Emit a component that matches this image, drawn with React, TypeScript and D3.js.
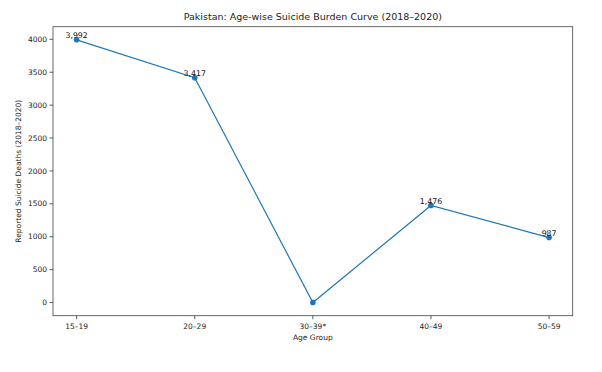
import React from "react";
import * as d3 from "d3";

const width = 602;
const height = 372;
const margin = { top: 26.7, right: 29.3, bottom: 56.3, left: 53 };

const ageGroups = ["15–19", "20–29", "30–39*", "40–49", "50–59"];
const deaths = [3992, 3417, 0, 1476, 987];
const yTicks = [0, 500, 1000, 1500, 2000, 2500, 3000, 3500, 4000];

const font = "DejaVu Sans, sans-serif";
const blue = "#1f77b4";

export default function App() {
  const innerW = width - margin.left - margin.right;
  const innerH = height - margin.top - margin.bottom;

  const x = d3
    .scaleLinear()
    .domain([-0.2, ageGroups.length - 1 + 0.2])
    .range([margin.left, margin.left + innerW]);

  const yMax = d3.max(deaths) as number;
  const pad = yMax * 0.05;
  const y = d3
    .scaleLinear()
    .domain([-pad, yMax + pad])
    .range([margin.top + innerH, margin.top]);

  const line = d3
    .line<number>()
    .x((_, i) => x(i))
    .y((d) => y(d));

  const fmt = d3.format(",");
  const bottom = margin.top + innerH;
  const right = margin.left + innerW;

  return (
    <svg
      width={width}
      height={height}
      style={{ position: "absolute", left: 0, top: 0, background: "#fff" }}
      fontFamily={font}
    >
      <text x={(margin.left + right) / 2} y={20} textAnchor="middle" fontSize={9.5} fill="#222">
        Pakistan: Age-wise Suicide Burden Curve (2018–2020)
      </text>

      {/* y ticks */}
      {yTicks.map((t) => (
        <g key={t}>
          <line x1={margin.left - 3.5} x2={margin.left} y1={y(t)} y2={y(t)} stroke="#333" strokeWidth={0.8} />
          <text x={margin.left - 6} y={y(t)} dy="0.35em" textAnchor="end" fontSize={7.5} fill="#222">
            {t}
          </text>
        </g>
      ))}

      {/* x ticks */}
      {ageGroups.map((g, i) => (
        <g key={g}>
          <line x1={x(i)} x2={x(i)} y1={bottom} y2={bottom + 3.5} stroke="#333" strokeWidth={0.8} />
          <text x={x(i)} y={bottom + 13} textAnchor="middle" fontSize={7.5} fill="#222">
            {g}
          </text>
        </g>
      ))}

      <rect
        x={margin.left}
        y={margin.top}
        width={innerW}
        height={innerH}
        fill="none"
        stroke="#444"
        strokeWidth={0.8}
      />

      <text x={(margin.left + right) / 2} y={bottom + 24.5} textAnchor="middle" fontSize={7.5} fill="#222">
        Age Group
      </text>
      <text
        transform={`translate(21,${margin.top + innerH / 2}) rotate(-90)`}
        textAnchor="middle"
        fontSize={7.5}
        fill="#222"
      >
        Reported Suicide Deaths (2018–2020)
      </text>

      <path d={line(deaths) || ""} fill="none" stroke={blue} strokeWidth={1.2} />
      {deaths.map((d, i) => (
        <circle key={i} cx={x(i)} cy={y(d)} r={2.8} fill={blue} />
      ))}
      {deaths.map((d, i) =>
        d > 0 ? (
          <text key={"l" + i} x={x(i)} y={y(d) - 1.5} textAnchor="middle" fontSize={7.8} fill="#111">
            {fmt(d)}
          </text>
        ) : null
      )}
    </svg>
  );
}
